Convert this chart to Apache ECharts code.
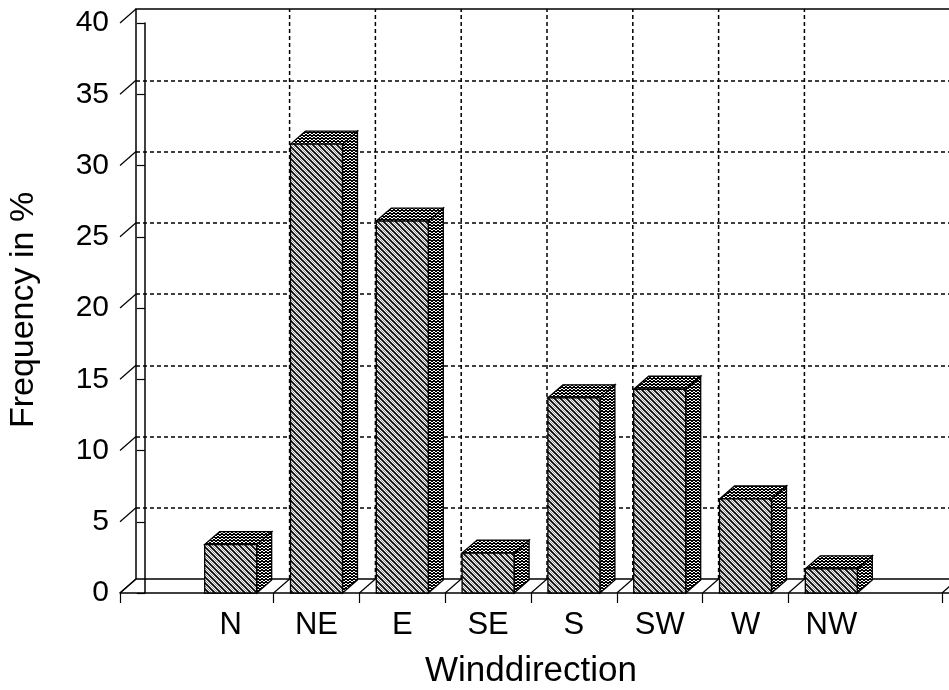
<!DOCTYPE html>
<html><head><meta charset="utf-8">
<script src="https://cdn.jsdelivr.net/npm/echarts@6/dist/echarts.min.js"></script>
<style>html,body{margin:0;padding:0;background:#fff}#c{width:949px;height:690px}</style>
</head><body><div id="c"></div>
<script>
// ---- data ----
const categories = ['N', 'NE', 'E', 'SE', 'S', 'SW', 'W', 'NW'];
const frequency = [3.4, 31.5, 26.1, 2.8, 13.7, 14.3, 6.6, 1.7];
const yTicks = [0, 5, 10, 15, 20, 25, 30, 35, 40];
const yLabel = 'Frequency in %';
const xLabel = 'Winddirection';

// ---- axis geometry (category n sits at value n) ----
const X_MIN = -0.29, X_MAX = 9.6, X_END = 9.29;
const catPos = categories.map((c, i) => i + 1);
const bounds = categories.slice(1).map((c, i) => i + 1.5);
const DX = 16, DY = 14;        // depth offset of back wall
const BDX = 15, BDY = 13;      // depth of bar box
const FONT = '"Liberation Sans", Arial, Helvetica, sans-serif';

function hatch() {
  const s = 6, c = document.createElement('canvas'); c.width = s; c.height = s;
  const g = c.getContext('2d');
  g.fillStyle = '#fff'; g.fillRect(0, 0, s, s);
  for (let k = -1; k <= 1; k++) {
    g.strokeStyle = '#000'; g.lineWidth = 1.7;
    g.beginPath(); g.moveTo(k * s - 1, -1); g.lineTo(k * s + s + 1, s + 1); g.stroke();
    g.strokeStyle = '#888'; g.lineWidth = 0.9;
    g.beginPath(); g.moveTo(k * s + 2, -1); g.lineTo(k * s + s + 4, s + 1); g.stroke();
  }
  return { image: c, repeat: 'repeat' };
}
function stipple() {
  const c = document.createElement('canvas'); c.width = 4; c.height = 3;
  const g = c.getContext('2d');
  g.fillStyle = '#fff'; g.fillRect(0, 0, 4, 3);
  g.fillStyle = '#000';
  [[0,0],[1,0],[2,0],[3,0],[0,1],[3,1],[1,2],[2,2]].forEach(p => g.fillRect(p[0], p[1], 1, 1));
  return { image: c, repeat: 'repeat' };
}
const HATCH = hatch(), STIP = stipple();

const chart = echarts.init(document.getElementById('c'), null, { renderer: 'canvas' });
const W = 848.6;
chart.setOption({
  animation: false,
  backgroundColor: '#fff',
  grid: [
    { left: 136, top: 9, width: W, height: 570, show: true, borderColor: '#000', borderWidth: 1.5,
      backgroundColor: 'transparent', containLabel: false, outerBoundsMode: 'none' },
    { left: 120, top: 23, width: W, height: 570, containLabel: false, outerBoundsMode: 'none' }
  ],
  xAxis: [
    { gridIndex: 0, type: 'value', min: X_MIN, max: X_MAX, show: true,
      axisLine: { show: false }, axisTick: { show: false }, axisLabel: { show: false }, splitLine: { show: false } },
    { gridIndex: 1, type: 'value', min: X_MIN, max: X_MAX, position: 'bottom',
      axisLine: { show: true, onZero: false, lineStyle: { color: '#000', width: 1.5 } },
      axisTick: { show: true, length: 10, lineStyle: { color: '#000', width: 1.2 },
        customValues: [X_MIN].concat(bounds, [X_END]) },
      axisLabel: { show: true, margin: 17, fontSize: 31, color: '#000', fontFamily: FONT,
        customValues: catPos, formatter: v => categories[Math.round(v) - 1] || '' },
      splitLine: { show: false } }
  ],
  yAxis: [
    { gridIndex: 0, type: 'value', min: 0, max: 40, interval: 5,
      axisLine: { show: false }, axisTick: { show: false }, axisLabel: { show: false },
      splitLine: { show: true, showMinLine: false, showMaxLine: false,
        lineStyle: { color: '#000', width: 1.5, type: [4, 3] } } },
    { gridIndex: 1, type: 'value', min: 0, max: 40, interval: 5,
      axisLine: { show: true, lineStyle: { color: '#000', width: 1.5 } },
      axisTick: { show: true, length: 8, lineStyle: { color: '#000', width: 1.2 } },
      axisLabel: { show: true, margin: 11, fontSize: 30, color: '#000', fontFamily: FONT },
      splitLine: { show: false } }
  ],
  graphic: [
    { type: 'text', x: 24, y: 310, rotation: Math.PI / 2,
      style: { text: yLabel, font: '34px ' + FONT, fill: '#000', align: 'center', verticalAlign: 'middle' } },
    { type: 'text', x: 531, y: 671,
      style: { text: xLabel, font: '35px ' + FONT, fill: '#000', align: 'center', verticalAlign: 'middle' } }
  ],
  series: [
    { // back-wall vertical grid lines
      type: 'custom', xAxisIndex: 0, yAxisIndex: 0, z: 1,
      data: bounds.concat([X_END]).map(b => [b, 0]),
      renderItem: (p, api) => {
        const a = api.coord([api.value(0), 0]), b = api.coord([api.value(0), 40]);
        return { type: 'line', shape: { x1: a[0], y1: a[1], x2: b[0], y2: b[1] },
          style: { stroke: '#000', lineWidth: 1.5, lineDash: [4, 3] } };
      }
    },
    { // floor depth lines
      type: 'custom', xAxisIndex: 1, yAxisIndex: 1, z: 2,
      data: [X_MIN].concat(bounds, [X_END]).map(b => [b, 0]),
      renderItem: (p, api) => {
        const a = api.coord([api.value(0), 0]);
        return { type: 'line', shape: { x1: a[0], y1: a[1], x2: a[0] + DX, y2: a[1] - DY },
          style: { stroke: '#000', lineWidth: 1.2 } };
      }
    },
    { // side wall depth lines at y ticks
      type: 'custom', xAxisIndex: 1, yAxisIndex: 1, z: 2,
      data: yTicks.map(t => [X_MIN, t]),
      renderItem: (p, api) => {
        const a = api.coord([api.value(0), api.value(1)]);
        return { type: 'line', shape: { x1: a[0], y1: a[1], x2: a[0] + DX, y2: a[1] - DY },
          style: { stroke: '#000', lineWidth: 1.2 } };
      }
    },
    { // 3D bars
      type: 'custom', xAxisIndex: 1, yAxisIndex: 1, z: 5,
      data: frequency.map((v, i) => [catPos[i], v]),
      renderItem: (p, api) => {
        const x = api.value(0), v = api.value(1), hw = 0.303;
        const bl = api.coord([x - hw, 0]), tr = api.coord([x + hw, v]);
        const x0 = bl[0], y0 = bl[1], x1 = tr[0], y1 = tr[1];
        const edge = { stroke: '#000', lineWidth: 1.3 };
        return { type: 'group', children: [
          { type: 'polygon', shape: { points: [[x1, y0], [x1, y1], [x1 + BDX, y1 - BDY], [x1 + BDX, y0 - BDY]] },
            style: Object.assign({ fill: STIP }, edge) },
          { type: 'polygon', shape: { points: [[x0, y1], [x0 + BDX, y1 - BDY], [x1 + BDX, y1 - BDY], [x1, y1]] },
            style: Object.assign({ fill: STIP }, edge) },
          { type: 'rect', shape: { x: x0, y: y1, width: x1 - x0, height: y0 - y1 },
            style: Object.assign({ fill: HATCH }, edge) }
        ] };
      }
    }
  ]
});
</script></body></html>
